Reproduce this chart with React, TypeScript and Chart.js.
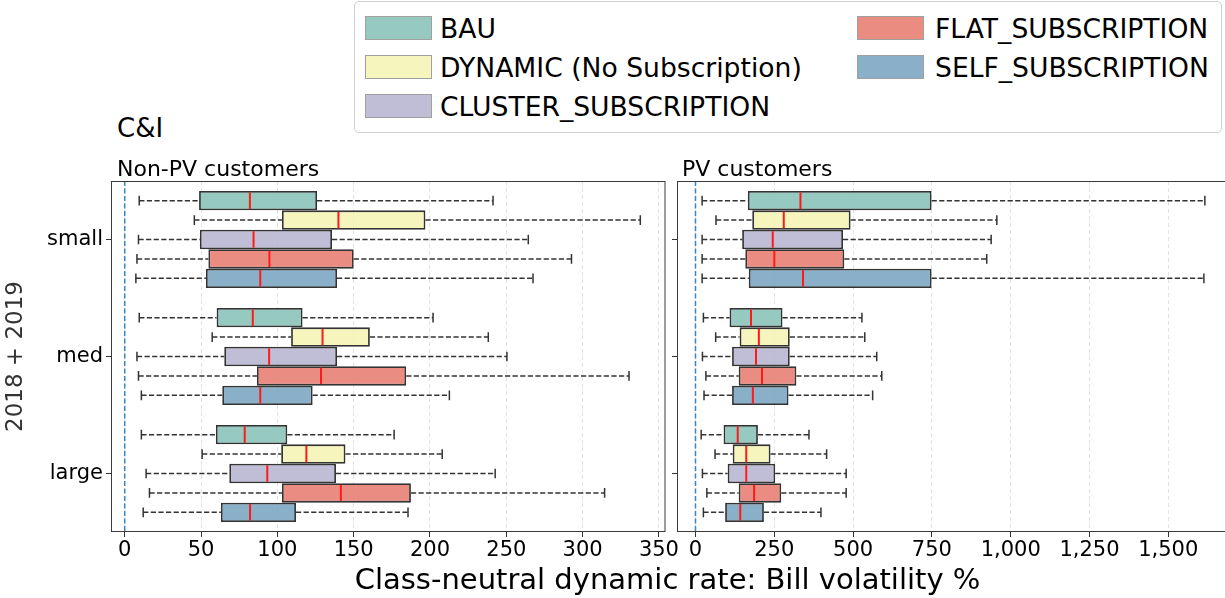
import React, { useEffect, useRef } from 'react';
import { Chart, registerables } from 'chart.js';

Chart.register(...registerables);
Chart.defaults.font.family = 'DejaVu Sans';

const categories = ['small', 'med', 'large'];
const seriesNames = ['BAU', 'DYNAMIC (No Subscription)', 'CLUSTER_SUBSCRIPTION', 'FLAT_SUBSCRIPTION', 'SELF_SUBSCRIPTION'];
const boxFill = ['rgba(136,195,184,0.88)', 'rgba(244,244,180,0.88)', 'rgba(183,180,210,0.88)', 'rgba(231,124,111,0.88)', 'rgba(121,164,194,0.88)'];
const legendFill = ['#96cac0', '#f5f5bd', '#c0bdd7', '#ea8c80', '#89afc9'];

// [whisker low, Q1, median, Q3, whisker high] for small, med, large
const nonPvBAU = [[9.5, 48.7, 82, 126, 241.3], [9.5, 60.2, 83.9, 116.5, 202], [10.9, 59.7, 78.6, 106.5, 176.5]];
const nonPvDYNAMIC = [[45.6, 103, 140, 197, 337.8], [57.3, 109, 129.6, 160.6, 238.2], [50.7, 102.5, 119, 144.6, 208]];
const nonPvCLUSTER = [[9, 49.2, 84.4, 135.8, 264.4], [8, 65.2, 94.6, 139.1, 250.4], [14, 68.5, 93.4, 138.4, 242.7]];
const nonPvFLAT = [[8, 54.8, 94.8, 150, 292.7], [9, 86.6, 128.6, 184.4, 330.4], [16.2, 103, 141.6, 187.5, 314.4]];
const nonPvSELF = [[7.3, 53.2, 88.8, 139.1, 267.5], [10.9, 63.9, 88.8, 123.1, 212.7], [12.1, 63, 82.1, 112.2, 185.6]];

const pvBAU = [[21, 166, 333, 749, 1616], [25, 108, 176, 276, 528], [18, 89, 134, 198, 360]];
const pvDYNAMIC = [[65, 180, 280, 492, 956], [64, 140, 201, 299, 537], [62, 118, 161, 238, 416]];
const pvCLUSTER = [[21, 148, 245, 468, 938], [22, 116, 192, 299, 575], [22, 102, 161, 253, 478]];
const pvFLAT = [[21, 158, 250, 472, 924], [33, 137, 211, 320, 591], [36, 137, 186, 272, 478]];
const pvSELF = [[21, 169, 341, 749, 1613], [27, 116, 182, 295, 562], [25, 94, 142, 217, 398]];

const nonPvSeries = [nonPvBAU, nonPvDYNAMIC, nonPvCLUSTER, nonPvFLAT, nonPvSELF];
const pvSeries = [pvBAU, pvDYNAMIC, pvCLUSTER, pvFLAT, pvSELF];

const leftTicks = [0, 50, 100, 150, 200, 250, 300, 350];
const rightTicks = [0, 250, 500, 750, 1000, 1250, 1500];

const boxPlugin = {
  id: 'boxExtras',
  beforeDatasetsDraw(chart: any) {
    const { ctx, chartArea, scales } = chart;
    const px = scales.x.getPixelForValue(0);
    ctx.save();
    ctx.strokeStyle = '#3b84c0';
    ctx.lineWidth = 1.5;
    ctx.setLineDash([5, 2.5]);
    ctx.beginPath();
    ctx.moveTo(px, chartArea.top);
    ctx.lineTo(px, chartArea.bottom);
    ctx.stroke();
    ctx.restore();
  },
  afterDatasetsDraw(chart: any) {
    const { ctx, scales } = chart;
    const x = scales.x;
    ctx.save();
    chart.data.datasets.forEach((ds: any, di: number) => {
      const meta = chart.getDatasetMeta(di);
      meta.data.forEach((bar: any, j: number) => {
        const s = ds.stats[j];
        const { y, height } = bar.getProps(['y', 'height'], true);
        const wl = x.getPixelForValue(s[0]);
        const q1 = x.getPixelForValue(s[1]);
        const md = x.getPixelForValue(s[2]);
        const q3 = x.getPixelForValue(s[3]);
        const wh = x.getPixelForValue(s[4]);
        ctx.strokeStyle = '#333333';
        ctx.lineWidth = 1.5;
        ctx.setLineDash([5.2, 2.4]);
        ctx.beginPath();
        ctx.moveTo(wl, y);
        ctx.lineTo(q1, y);
        ctx.moveTo(q3, y);
        ctx.lineTo(wh, y);
        ctx.stroke();
        ctx.setLineDash([]);
        const c = height / 4;
        ctx.beginPath();
        ctx.moveTo(wl, y - c);
        ctx.lineTo(wl, y + c);
        ctx.moveTo(wh, y - c);
        ctx.lineTo(wh, y + c);
        ctx.stroke();
        ctx.strokeStyle = '#ff1a1a';
        ctx.lineWidth = 2;
        ctx.beginPath();
        ctx.moveTo(md, y - height / 2 + 1.5);
        ctx.lineTo(md, y + height / 2 - 1.5);
        ctx.stroke();
      });
    });
    ctx.restore();
  },
  afterDraw(chart: any) {
    const { ctx, chartArea } = chart;
    ctx.save();
    ctx.strokeStyle = '#3a3a3a';
    ctx.lineWidth = 1;
    ctx.strokeRect(chartArea.left + 0.5, chartArea.top + 0.5, chartArea.right - chartArea.left - 1, chartArea.bottom - chartArea.top - 1);
    ctx.restore();
  },
};

type PanelProps = {
  series: number[][][];
  ticks: number[];
  min: number;
  max: number;
  showYLabels: boolean;
  yWidth: number;
  padRight: number;
  left: number;
  width: number;
};

function Panel(props: PanelProps) {
  const ref = useRef<HTMLCanvasElement | null>(null);
  useEffect(() => {
    if (!ref.current) return;
    const chart = new Chart(ref.current, {
      type: 'bar',
      data: {
        labels: categories,
        datasets: props.series.map((stats, i) => ({
          label: seriesNames[i],
          data: stats.map((s) => [s[1], s[3]]),
          stats,
          backgroundColor: boxFill[i],
          borderColor: '#333333',
          borderWidth: 1.8,
          borderSkipped: false,
          categoryPercentage: 0.83,
          barPercentage: 1.0,
        })) as any,
      },
      options: {
        animation: false,
        responsive: false,
        devicePixelRatio: 1,
        indexAxis: 'y',
        layout: { padding: { top: 11, right: props.padRight, left: 0, bottom: 0 } },
        plugins: { legend: { display: false }, tooltip: { enabled: false } },
        scales: {
          x: {
            type: 'linear',
            min: props.min,
            max: props.max,
            afterBuildTicks: (scale: any) => {
              scale.ticks = props.ticks.map((value) => ({ value }));
            },
            afterFit: (scale: any) => {
              scale.height = 38;
              scale.paddingLeft = 0;
              scale.paddingRight = 0;
            },
            ticks: {
              color: '#000',
              font: { size: 21 },
              padding: 1,
              maxRotation: 0,
              autoSkip: false,
              callback: (v: any) => Number(v).toLocaleString('en-US'),
            },
            grid: {
              color: 'rgba(0,0,0,0.11)',
              lineWidth: 1,
              drawTicks: true,
              tickLength: 5,
              tickColor: '#333',
              tickBorderDash: [],
            },
            border: { display: false, dash: [4, 3] },
          },
          y: {
            type: 'category',
            offset: true,
            afterFit: (scale: any) => {
              scale.width = props.yWidth;
              scale.paddingTop = 0;
              scale.paddingBottom = 0;
            },
            ticks: {
              display: props.showYLabels,
              color: '#000',
              font: { size: 21 },
              padding: 3,
            },
            grid: {
              offset: false,
              drawOnChartArea: false,
              drawTicks: true,
              tickLength: 5,
              tickColor: '#333',
            },
            border: { display: false },
            title: {
              display: props.showYLabels,
              text: '2018 + 2019',
              color: '#333',
              font: { size: 23 },
              padding: 2,
            },
          },
        },
      } as any,
      plugins: [boxPlugin],
    });
    return () => chart.destroy();
  }, []);
  return (
    <canvas
      ref={ref}
      width={props.width}
      height={400}
      style={{ position: 'absolute', left: props.left, top: 170, width: props.width, height: 400 }}
    />
  );
}

const txt = (extra: React.CSSProperties): React.CSSProperties => ({
  position: 'absolute',
  whiteSpace: 'nowrap',
  color: '#000',
  fontFamily: 'DejaVu Sans',
  ...extra,
});

const legendRows = [28, 67, 106];
const legendPos = [
  { sx: 365, tx: 440, row: 0 },
  { sx: 365, tx: 440, row: 1 },
  { sx: 365, tx: 440, row: 2 },
  { sx: 857, tx: 935, row: 0 },
  { sx: 857, tx: 935, row: 1 },
];

export default function App() {
  return (
    <div style={{ position: 'absolute', left: 0, top: 0, width: 1225, height: 598, overflow: 'hidden', background: '#fff' }}>
      <Panel series={pvSeries} ticks={rightTicks} min={-58.7} max={1695.8} showYLabels={false} yWidth={5} padRight={2} left={672} width={560} />
      <Panel series={nonPvSeries} ticks={leftTicks} min={-9} max={354.3} showYLabels={true} yWidth={111} padRight={24.5} left={0} width={690} />
      <div style={{ position: 'absolute', left: 354, top: 1, width: 866, height: 130, border: '1px solid #d0d0d0', borderRadius: 5, background: '#fff' }} />
      {seriesNames.map((name, i) => {
        const p = legendPos[i];
        const cy = legendRows[p.row];
        return (
          <React.Fragment key={name}>
            <div style={{ position: 'absolute', left: p.sx, top: cy - 12, width: 67, height: 24, background: legendFill[i], border: '1px solid #a0a0a0', boxSizing: 'border-box' }} />
            <div style={txt({ left: p.tx, top: cy - 13.5, fontSize: 26.6, lineHeight: '27px' })}>{name}</div>
          </React.Fragment>
        );
      })}
      <div style={txt({ left: 117, top: 115, fontSize: 26, lineHeight: '26px' })}>C&amp;I</div>
      <div style={txt({ left: 117, top: 158, fontSize: 22, lineHeight: '22px' })}>Non-PV customers</div>
      <div style={txt({ left: 682, top: 158, fontSize: 22, lineHeight: '22px' })}>PV customers</div>
      <div style={txt({ left: 0, width: 1335, top: 565, fontSize: 29, lineHeight: '29px', textAlign: 'center' })}>
        Class-neutral dynamic rate: Bill volatility %
      </div>
    </div>
  );
}
